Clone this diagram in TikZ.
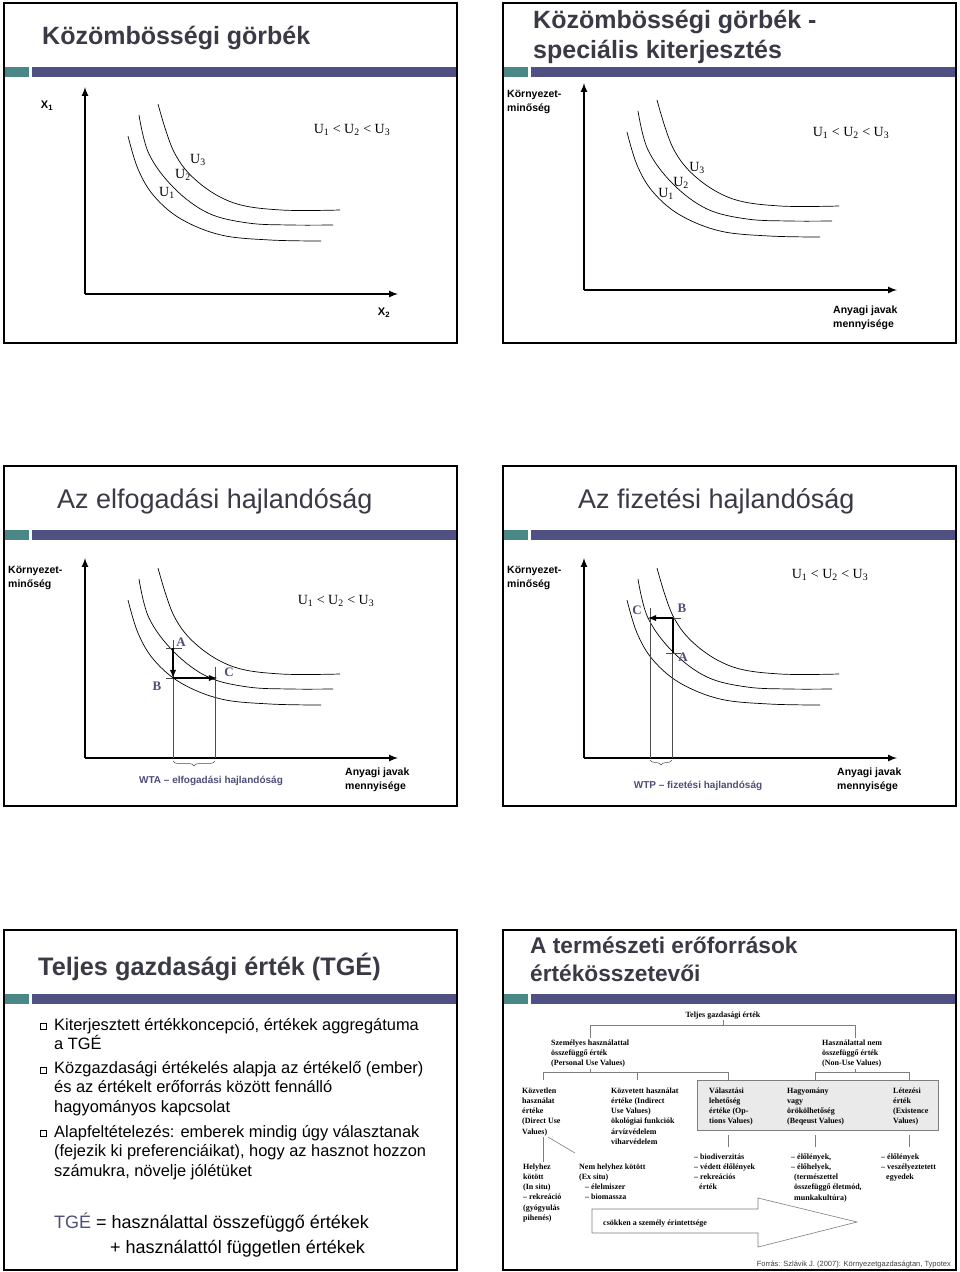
\documentclass[tikz,border=0pt]{standalone}
\usepackage{fontspec}
\setmainfont{Liberation Sans}
\newfontfamily\seriffont{Liberation Serif}
\usepackage{tikz}
\usetikzlibrary{shapes,arrows,decorations.pathreplacing}

\definecolor{barteal}{RGB}{74,136,136}
\definecolor{barblue}{RGB}{80,80,132}
\definecolor{titlegray}{RGB}{58,58,70}
\definecolor{labelblue}{RGB}{78,78,122}
\definecolor{treegray}{RGB}{125,125,125}
\definecolor{boxgray}{RGB}{234,234,234}

% multi-line nodes sit on the baseline of their last line
\tikzstyle{slide} = [draw, line width=2pt]
\tikzstyle{tealbar} = [fill=barteal]
\tikzstyle{bluebar} = [fill=barblue]
\tikzstyle{title} = [anchor=base west, inner sep=0pt, text=titlegray, align=left,
    font=\fontsize{25}{30}\selectfont\bfseries]
\tikzstyle{lighttitle} = [anchor=base west, inner sep=0pt, text=titlegray,
    font=\fontsize{27}{30}\selectfont]
\tikzstyle{axis} = [draw, -latex, line width=2pt]
\tikzstyle{curve} = [draw, line width=0.7pt]
\tikzstyle{axislabel} = [anchor=base west, inner sep=0pt, align=left,
    font=\fontsize{10.5}{14}\selectfont\bfseries]
\tikzstyle{ulabel} = [inner sep=0pt, font=\seriffont\fontsize{14}{16}\selectfont]
\tikzstyle{ptlabel} = [inner sep=0pt, text=labelblue,
    font=\seriffont\fontsize{13}{15}\selectfont\bfseries]
\tikzstyle{wlabel} = [anchor=base, inner sep=0pt, text=labelblue,
    font=\fontsize{10}{12}\selectfont\bfseries]
\tikzstyle{move} = [draw, -latex, line width=1.8pt]
\tikzstyle{thickline} = [draw, line width=1.8pt]
\tikzstyle{guide} = [draw, line width=0.5pt, black!70]
\tikzstyle{brace} = [draw, line width=0.5pt, black!70, decorate,
    decoration={brace, mirror, amplitude=5pt}]
\tikzstyle{bullet} = [draw, rectangle, minimum size=5.5pt, inner sep=0pt, line width=0.5pt]
\tikzstyle{bullettext} = [anchor=base west, inner sep=0pt, align=left,
    font=\fontsize{16.4}{19.7}\selectfont]
\tikzstyle{formula} = [anchor=base west, inner sep=0pt, font=\fontsize{18}{22}\selectfont]
\tikzstyle{treetext} = [anchor=base west, inner sep=1pt, align=left,
    font=\seriffont\fontsize{8}{10.3}\selectfont\bfseries]
\tikzstyle{treeline} = [draw, treegray, line width=0.6pt]

% three indifference curves, origin at the axis corner
\newcommand{\indiffcurves}{%
  \draw[curve] plot[smooth, tension=0.6] coordinates
    {(43,-158) (53,-125) (69,-98) (96,-75) (136,-59) (185,-54) (236,-53)};
  \draw[curve] plot[smooth, tension=0.6] coordinates
    {(54,-179) (64,-140) (89,-106) (123,-81) (163,-71) (205,-69) (248,-69)};
  \draw[curve] plot[smooth, tension=0.6] coordinates
    {(73,-190) (89,-142) (113,-112) (149,-91) (196,-84) (255,-84)};
}

\begin{document}
\begin{tikzpicture}[x=1pt, y=-1pt]
    \useasboundingbox (0,0) rectangle (960,1272);
    \fill[white] (0,0) rectangle (960,1272);

    % Slide frames and title bars
    \foreach \sx in {4,503} {
      \foreach \sy in {3,466,930} {
        \fill[tealbar] (\sx,\sy+64) rectangle (\sx+25,\sy+74);
        \fill[bluebar] (\sx+28,\sy+64) rectangle (\sx+453,\sy+74);
        \draw[slide] (\sx,\sy) rectangle (\sx+453,\sy+340);
      }
    }

    % Slide 1
    \node[title] (title1) at (42,44) {Közömbösségi görbék};
    \coordinate (O1) at (85,294);
    \draw[axis] (O1) -- (85,87);
    \draw[axis] (O1) -- (398,294);
    \begin{scope}[shift={(O1)}]
      \indiffcurves
    \end{scope}
    \node[inner sep=0pt, font=\fontsize{11}{13}\selectfont\bfseries] (xone) at (47,106) {X\textsubscript{1}};
    \node[inner sep=0pt, font=\fontsize{11}{13}\selectfont\bfseries] (xtwo) at (384,313) {X\textsubscript{2}};
    \node[ulabel] (order1) at (352,130) {U\textsubscript{1} < U\textsubscript{2} < U\textsubscript{3}};
    \node[ulabel] (uthree1) at (198,160) {U\textsubscript{3}};
    \node[ulabel] (utwo1) at (183,175) {U\textsubscript{2}};
    \node[ulabel] (uone1) at (167,193) {U\textsubscript{1}};

    % Slide 2
    \node[title] (title2) at (533,58) {Közömbösségi görbék -\\speciális kiterjesztés};
    \coordinate (O2) at (584,290);
    \draw[axis] (O2) -- (584,83);
    \draw[axis] (O2) -- (897,290);
    \begin{scope}[shift={(O2)}]
      \indiffcurves
    \end{scope}
    \node[axislabel] (quality2) at (507,111) {Környezet-\\minőség};
    \node[axislabel] (goods2) at (833,327) {Anyagi javak\\mennyisége};
    \node[ulabel] (order2) at (851,133) {U\textsubscript{1} < U\textsubscript{2} < U\textsubscript{3}};
    \node[ulabel] (uthree2) at (697,168) {U\textsubscript{3}};
    \node[ulabel] (utwo2) at (681,183) {U\textsubscript{2}};
    \node[ulabel] (uone2) at (666,194) {U\textsubscript{1}};

    % Slide 3
    \node[lighttitle] (title3) at (57,508) {Az elfogadási hajlandóság};
    \coordinate (O3) at (85,758);
    \draw[axis] (O3) -- (85,558);
    \draw[axis] (O3) -- (398,758);
    \begin{scope}[shift={(O3)}]
      \indiffcurves
    \end{scope}
    \node[axislabel] (quality3) at (8,587) {Környezet-\\minőség};
    \node[axislabel] (goods3) at (345,789) {Anyagi javak\\mennyisége};
    \node[ulabel] (order3) at (336,601) {U\textsubscript{1} < U\textsubscript{2} < U\textsubscript{3}};
    \coordinate (A3) at (173,648);
    \coordinate (B3) at (173,678);
    \coordinate (C3) at (217,678);
    \draw[guide] (173,640) -- (173,758);
    \draw[guide] (215,667) -- (215,758);
    \draw[guide] (166,648) -- (182,648);
    \draw[guide] (166,678) -- (182,678);
    \draw[move] (A3) -- (B3);
    \draw[move] (B3) -- (C3);
    \node[ptlabel] (la3) at (181,642) {A};
    \node[ptlabel] (lb3) at (157,686) {B};
    \node[ptlabel] (lc3) at (229,672) {C};
    \draw[brace] (173,761) -- (215,761);
    \node[wlabel] (wta) at (211,783) {WTA – elfogadási hajlandóság};

    % Slide 4
    \node[lighttitle] (title4) at (578,508) {Az fizetési hajlandóság};
    \coordinate (O4) at (584,758);
    \draw[axis] (O4) -- (584,558);
    \draw[axis] (O4) -- (897,758);
    \begin{scope}[shift={(O4)}]
      \indiffcurves
    \end{scope}
    \node[axislabel] (quality4) at (507,587) {Környezet-\\minőség};
    \node[axislabel] (goods4) at (837,789) {Anyagi javak\\mennyisége};
    \node[ulabel] (order4) at (830,575) {U\textsubscript{1} < U\textsubscript{2} < U\textsubscript{3}};
    \coordinate (A4) at (673,653);
    \coordinate (B4) at (673,618);
    \coordinate (C4) at (648,618);
    \draw[guide] (650,608) -- (650,758);
    \draw[guide] (672,618) -- (672,758);
    \draw[guide] (666,653) -- (681,653);
    \draw[guide] (666,618) -- (681,618);
    \draw[thickline] (A4) -- (B4);
    \draw[move] (B4) -- (C4);
    \node[ptlabel] (lb4) at (682,608) {B};
    \node[ptlabel] (lc4) at (637,610) {C};
    \node[ptlabel] (la4) at (683,657) {A};
    \draw[brace] (650,760) -- (672,760);
    \node[wlabel] (wtp) at (698,788) {WTP – fizetési hajlandóság};

    % Slide 5
    \node[title, font=\fontsize{25.3}{30}\selectfont\bfseries] (title5) at (38,975) {Teljes gazdasági érték (TGÉ)};
    \node[bullet] (dot1) at (43,1026) {};
    \node[bullettext] (item1) at (54,1049.7) {Kiterjesztett értékkoncepció, értékek aggregátuma\\a TGÉ};
    \node[bullet] (dot2) at (43,1070) {};
    \node[bullettext] (item2) at (54,1112.4) {Közgazdasági értékelés alapja az értékelő (ember)\\és az értékelt erőforrás között fennálló\\hagyományos kapcsolat};
    \node[bullet] (dot3) at (43,1133) {};
    \node[bullettext] (item3) at (54,1176.4) {Alapfeltételezés: emberek mindig úgy választanak\\(fejezik ki preferenciáikat), hogy az hasznot hozzon\\számukra, növelje jólétüket};
    \node[formula] (sum1) at (54,1228) {\textcolor{labelblue}{TGÉ} = használattal összefüggő értékek};
    \node[formula] (sum2) at (110,1253) {+ használattól független értékek};

    % Slide 6
    \node[title, font=\fontsize{22.7}{28}\selectfont\bfseries] (title6) at (530,981) {A természeti erőforrások\\értékösszetevői};
    \filldraw[fill=boxgray, draw=treegray, line width=0.6pt] (697,1080) rectangle (938,1130);
    \node[treetext, anchor=base] (tge) at (723,1017) {Teljes gazdasági érték};
    \node[treetext] (personal) at (550,1065.6) {Személyes használattal\\összefüggő érték\\(Personal Use Values)};
    \node[treetext] (nonuse) at (821,1065.6) {Használattal nem\\összefüggő érték\\(Non-Use Values)};
    \node[treetext] (direct) at (521,1134.2) {Közvetlen\\használat\\értéke\\(Direct Use\\Values)};
    \node[treetext] (indirect) at (610,1144.5) {Közvetett használat\\értéke (Indirect\\Use Values)\\ökológiai funkciók\\árvízvédelem\\viharvédelem};
    \node[treetext] (option) at (708,1123.9) {Választási\\lehetőség\\értéke (Op-\\tions Values)};
    \node[treetext] (bequest) at (786,1123.9) {Hagyomány\\vagy\\örökölhetőség\\(Beqeust Values)};
    \node[treetext] (existence) at (892,1123.9) {Létezési\\érték\\(Existence\\Values)};
    \node[treetext] (insitu) at (522,1220.5) {Helyhez\\kötött\\(In situ)\\– rekreáció\\(gyógyulás\\pihenés)};
    \node[treetext] (exsitu) at (578,1199.9) {Nem helyhez kötött\\(Ex situ)\\\hspace{6pt}– élelmiszer\\\hspace{6pt}– biomassza};
    \node[treetext] (biodiv) at (693,1189.9) {– biodiverzitás\\– védett élőlények\\– rekreációs\\\hspace{5pt}érték};
    \node[treetext] (lifeforms) at (790,1200.2) {– élőlények,\\– élőhelyek,\\\hspace{3pt}(természettel\\\hspace{3pt}összefüggő életmód,\\\hspace{3pt}munkakultúra)};
    \node[treetext] (endangered) at (880,1179.6) {– élőlények\\– veszélyeztetett\\\hspace{5pt}egyedek};

    \coordinate (jtop) at (723,1025);
    \coordinate (jpers) at (590,1025);
    \coordinate (jnon) at (855,1025);
    \coordinate (jpb) at (590,1072);
    \coordinate (jnb) at (855,1072);
    \coordinate (jdir) at (543,1072);
    \coordinate (jind) at (637,1072);
    \coordinate (jopt) at (728,1072);
    \coordinate (jbeq) at (815,1072);
    \coordinate (jexi) at (909,1072);
    \coordinate (jin) at (543,1137);
    \path[treeline] (tge.south) -- (jtop);
    \path[treeline] (jpers) -- (jnon);
    \path[treeline] (jpers) -- (jpers |- personal.north);
    \path[treeline] (jnon) -- (jnon |- nonuse.north);
    \path[treeline] (jpb |- personal.south) -- (jpb);
    \path[treeline] (jnb |- nonuse.south) -- (jnb);
    \path[treeline] (jdir) -- (jopt);
    \path[treeline] (jbeq) -- (jexi);
    \foreach \j in {jdir,jind,jopt,jbeq,jexi}
      \path[treeline] (\j) -- ++(0,8);
    \foreach \tx in {728,815,909}
      \path[treeline] (\tx,1135) -- (\tx,1147);
    \path[treeline] (jin) -- (jin |- insitu.north);
    \path[treeline] (548,1137) -- (575,1153);

    % decreasing involvement arrow
    \draw[treegray, line width=0.6pt] (592,1209) -- (758,1209) -- (758,1198) -- (857,1222)
        -- (758,1247) -- (758,1233) -- (592,1233) -- cycle;
    \node[treetext] (involve) at (602,1225) {csökken a személy érintettsége};
    \node[anchor=base east, inner sep=0pt, text=black!75, font=\fontsize{7.5}{9}\selectfont] (source) at (951,1266) {Forrás: Szlávik J. (2007): Környezetgazdaságtan, Typotex};
\end{tikzpicture}
\end{document}
